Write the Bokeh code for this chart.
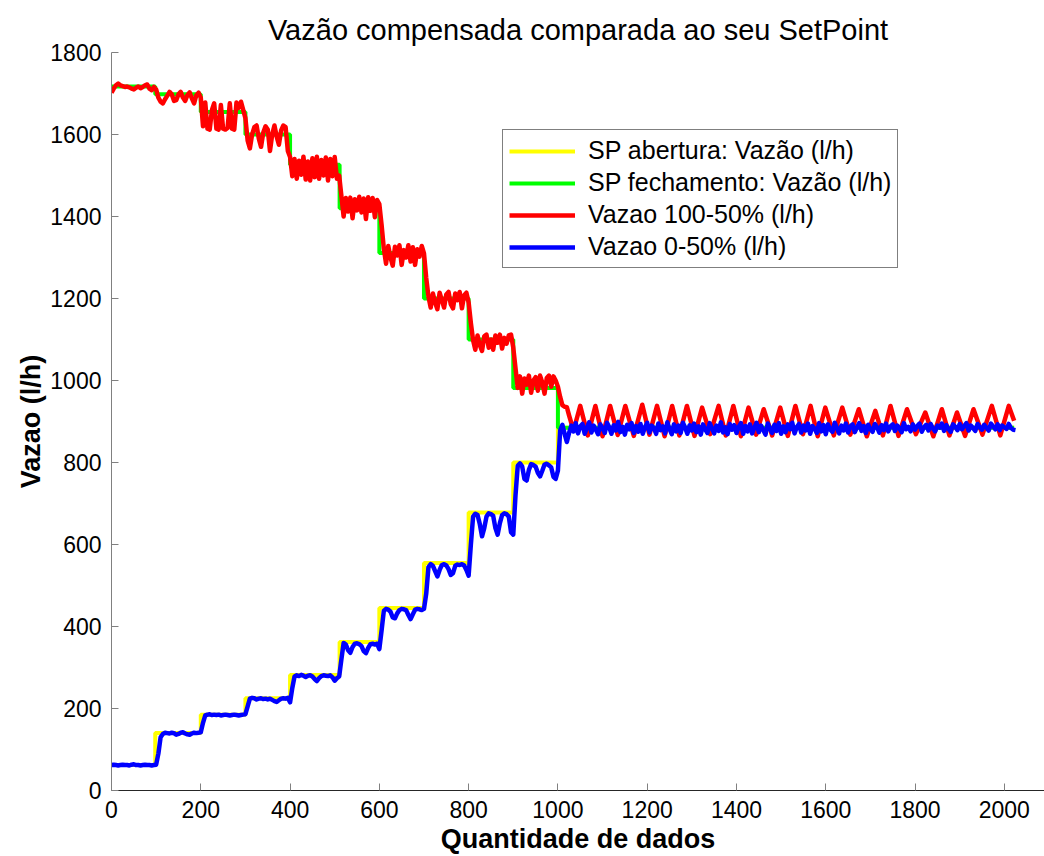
from bokeh.plotting import figure
from bokeh.models import FixedTicker
from bokeh.embed import file_html
from bokeh.resources import INLINE

# ---------------- data ----------------
title_text = "Vazão compensada comparada ao seu SetPoint"
x_label = "Quantidade de dados"
y_label = "Vazao (l/h)"
x_ticks = [0, 200, 400, 600, 800, 1000, 1200, 1400, 1600, 1800, 2000]
y_ticks = [0, 200, 400, 600, 800, 1000, 1200, 1400, 1600, 1800]

series_names = ["SP abertura: Vazão (l/h)", "SP fechamento: Vazão (l/h)",
                "Vazao 100-50% (l/h)", "Vazao 0-50% (l/h)"]

# set-point steps (sample index where each level starts)
sp_step_x = [0, 98, 200, 300, 400, 511, 600, 700, 800, 900, 1000, 2022]
sp_abertura = [62, 140, 185, 225, 282, 362, 445, 555, 678, 800, 885, 885]
sp_fechamento = [1717, 1698, 1655, 1600, 1526, 1420, 1311, 1200, 1100, 982, 885, 885]

# measured flow 100-50 %, one reading every 5 samples from 0 to 1025
sample_step = 5
vazao_100_50_a = [
    1702, 1712, 1720, 1724, 1720, 1718, 1716, 1717, 1715, 1712, 1710, 1714, 1717, 1713, 1716, 1720, 1722, 1712, 1708, 1716,
    1710, 1690, 1680, 1676, 1686, 1695, 1704, 1698, 1682, 1684, 1698, 1704, 1690, 1682, 1696, 1703, 1688, 1676, 1696, 1702,
    1690, 1620, 1678, 1614, 1612, 1660, 1676, 1614, 1612, 1672, 1614, 1612, 1616, 1676, 1614, 1612, 1678, 1665, 1680, 1660,
    1640, 1585, 1566, 1600, 1618, 1622, 1590, 1570, 1605, 1620, 1612, 1560, 1600, 1622, 1595, 1575, 1610, 1622, 1618, 1560,
    1545, 1498, 1540, 1492, 1536, 1502, 1546, 1490, 1534, 1488, 1542, 1496, 1546, 1492, 1538, 1500, 1544, 1488, 1540, 1498, 1545, 1492,
    1500, 1450, 1400, 1445, 1412, 1446, 1396, 1442, 1415, 1448, 1410, 1444, 1394, 1447, 1414, 1445, 1398, 1440,
    1430, 1380, 1322, 1285, 1328, 1300, 1280, 1326, 1305, 1330, 1282, 1318, 1300, 1330, 1290, 1325, 1282, 1320, 1302, 1328,
    1310, 1250, 1205, 1178, 1212, 1190, 1174, 1214, 1196, 1178, 1210, 1216, 1186, 1176, 1212, 1196, 1216, 1176, 1208, 1214,
    1190, 1140, 1098, 1075, 1110, 1086, 1072, 1108, 1112, 1080, 1100, 1075, 1110, 1092, 1112, 1078, 1104, 1090, 1110, 1112,
    1080, 1030, 982, 1010, 968, 1005, 990, 1012, 970, 1000, 1008, 975, 1012, 995, 968, 1006, 1012, 985, 1010, 1000,
    985, 960, 940, 936, 935, 915,
]
# second half: troughs and peaks of the oscillation
vazao_100_50_b_x = [1035, 1050, 1067, 1084, 1100, 1117, 1134, 1151, 1170, 1189, 1205, 1222, 1239, 1256,
                    1272, 1289, 1306, 1323, 1341, 1360, 1376, 1393, 1410, 1427, 1444, 1461, 1480, 1498,
                    1515, 1532, 1549, 1566, 1582, 1599, 1618, 1637, 1655, 1674, 1692, 1711, 1728, 1745,
                    1763, 1782, 1802, 1823, 1841, 1860, 1877, 1894, 1912, 1931, 1951, 1972, 1991, 2010, 2022]
vazao_100_50_b = [878, 938, 866, 938, 864, 938, 867, 938, 865, 941, 868, 938, 864, 938,
                  866, 938, 865, 934, 869, 938, 866, 938, 864, 934, 868, 930, 866, 934,
                  865, 938, 869, 938, 864, 934, 866, 934, 868, 930, 864, 926, 866, 938,
                  865, 930, 869, 922, 864, 930, 866, 922, 865, 930, 868, 938, 866, 938, 902]

# measured flow 0-50 %, one reading every 5 samples from 0 to 2025
vazao_0_50 = [
    62, 63, 62, 61, 62, 63, 62, 62, 61, 63, 64, 62, 62, 61, 62, 63, 62, 62, 61, 62, 63,
    90, 130, 138, 141, 140, 139, 141, 140, 136, 138, 141, 142, 139, 137, 136, 139, 141, 140, 141, 142,
    165, 183, 185, 186, 184, 185, 184, 185, 183, 184, 185, 184, 183, 184, 185, 184, 183, 184, 185, 186,
    205, 224, 226, 225, 222, 224, 225, 223, 224, 222, 224, 221, 218, 216, 220, 224, 225, 224, 226, 215,
    250, 278, 281, 279, 282, 280, 277, 280, 281, 278, 272, 267, 274, 279, 281, 280, 279, 281, 276, 268, 274, 278,
    320, 360, 356, 342, 336, 350, 358, 359, 357, 352, 340, 335, 348, 357, 358, 356, 358, 345,
    390, 438, 443, 441, 436, 422, 420, 432, 440, 443, 442, 440, 428, 418, 430, 441, 443, 442, 440, 443,
    480, 545, 552, 548, 535, 522, 538, 550, 552, 549, 540, 526, 530, 548, 551, 550, 552, 549, 538, 524,
    600, 668, 675, 672, 650, 620, 640, 668, 676, 674, 670, 640, 624, 652, 672, 676, 674, 668, 630, 624,
    720, 792, 798, 790, 760, 756, 782, 796, 794, 790, 775, 766, 780, 795, 797, 793, 788, 765, 760, 780,
    878, 892, 870, 850, 872, 890, 876, 896, 871, 888,
    894, 870, 885, 898, 873, 890, 880, 869, 893, 884,
    872, 897, 886, 870, 891, 878, 899, 874, 887, 868,
    892, 881, 896, 872, 889, 875, 894, 870, 886, 897,
    873, 890, 884, 870, 895, 879, 888, 871, 898, 882,
    869, 893, 876, 890, 872, 897, 885, 870, 891, 878,
    895, 874, 888, 868, 893, 881, 872, 896, 884, 871,
    890, 877, 898, 873, 886, 869, 894, 880, 891, 872,
    887, 896, 870, 889, 876, 893, 871, 885, 897, 874,
    890, 879, 868, 895, 883, 872, 892, 877, 896, 870,
    888, 874, 893, 881, 897, 871, 886, 894, 873, 890,
    878, 895, 870, 889, 883, 872, 896, 876, 891, 869,
    893, 880, 875, 897, 884, 871, 890, 878, 895, 873,
    888, 893, 874, 886, 896, 877, 889, 872, 892, 881,
    875, 894, 886, 873, 891, 879, 895, 876, 888, 893,
    877, 890, 884, 874, 896, 881, 887, 876, 893, 880,
    889, 895, 875, 886, 892, 878, 894, 883, 876, 890,
    885, 895, 877, 891, 882, 875, 893, 887, 879, 894,
    881, 889, 896, 878, 890, 884, 877, 894, 886, 880,
    892, 885, 878, 895, 888, 881, 893, 879, 890, 886,
    882, 894, 884, 880, 879,
]

# ---------------- build the series ----------------
red_x = [i * sample_step for i in range(len(vazao_100_50_a))] + vazao_100_50_b_x
red_y = vazao_100_50_a + vazao_100_50_b
blue_x = [i * sample_step for i in range(len(vazao_0_50))]
blue_y = vazao_0_50

FONT = "Liberation Sans"

p = figure(width=1044, height=856, x_range=(0, 2090), y_range=(0, 1800),
           output_backend="svg", toolbar_location=None,
           min_border_left=111, min_border_right=0, min_border_top=52, min_border_bottom=65,
           title=title_text)
p.outline_line_color = None
p.grid.visible = False
p.background_fill_color = "white"
p.border_fill_color = "white"

p.title.align = "center"
p.title.vertical_align = "top"
p.title.text_font = FONT
p.title.text_font_size = "29px"
p.title.text_font_style = "normal"
p.title.text_color = "black"
p.title.standoff = 10

p.step(sp_step_x, sp_abertura, mode="after", line_color="#ffff00", line_width=4,
       legend_label=series_names[0])
p.step(sp_step_x, sp_fechamento, mode="after", line_color="#00ff00", line_width=4,
       legend_label=series_names[1])
p.line(red_x, red_y, line_color="#ff0000", line_width=4.5, line_join="round",
       legend_label=series_names[2])
p.line(blue_x, blue_y, line_color="#0000ff", line_width=4.5, line_join="round",
       legend_label=series_names[3])

for ax in (p.xaxis[0], p.yaxis[0]):
    ax.major_tick_in = 7
    ax.major_tick_out = 0
    ax.minor_tick_line_color = None
    ax.major_label_text_font = FONT
    ax.major_label_text_font_size = "23px"
    ax.major_label_text_color = "black"
    ax.axis_label_text_font = FONT
    ax.axis_label_text_font_size = "27px"
    ax.axis_label_text_font_style = "bold"
    ax.axis_label_text_color = "black"
    ax.major_tick_line_color = "#808080"

p.xaxis.ticker = FixedTicker(ticks=x_ticks)
p.yaxis.ticker = FixedTicker(ticks=y_ticks)
p.xaxis.axis_label = x_label
p.yaxis.axis_label = y_label
p.xaxis.axis_line_color = "#262626"
p.yaxis.axis_line_color = "#808080"
p.xaxis.major_label_standoff = 10
p.xaxis.axis_label_standoff = 3
p.yaxis.major_label_standoff = 10
p.yaxis.axis_label_standoff = 1

lg = p.legend[0]
lg.location = (391, 522)
lg.border_line_color = "black"
lg.border_line_width = 1
lg.background_fill_color = "white"
lg.background_fill_alpha = 1
lg.label_text_font = FONT
lg.label_text_font_size = "25px"
lg.label_text_color = "black"
lg.label_height = 28
lg.glyph_height = 28
lg.glyph_width = 66
lg.spacing = 3
lg.padding = 6
lg.margin = 0
lg.label_standoff = 13

open("out.html", "w").write(file_html(p, INLINE))
